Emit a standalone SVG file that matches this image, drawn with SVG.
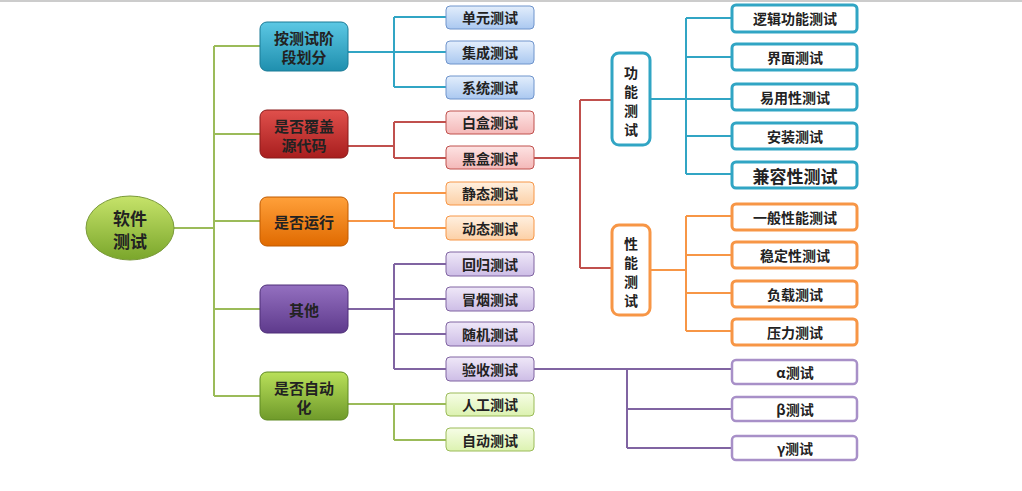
<svg xmlns="http://www.w3.org/2000/svg" width="1022" height="491" viewBox="0 0 1022 491">
<defs>
<linearGradient id="gG" x1="0" y1="0" x2="0" y2="1"><stop offset="0" stop-color="#c6e36a"/><stop offset="1" stop-color="#7aa62b"/></linearGradient>
<linearGradient id="gB" x1="0" y1="0" x2="0" y2="1"><stop offset="0" stop-color="#5cc8e4"/><stop offset="1" stop-color="#1f8fae"/></linearGradient>
<linearGradient id="gR" x1="0" y1="0" x2="0" y2="1"><stop offset="0" stop-color="#e0504c"/><stop offset="1" stop-color="#a81e1e"/></linearGradient>
<linearGradient id="gO" x1="0" y1="0" x2="0" y2="1"><stop offset="0" stop-color="#ffa03a"/><stop offset="1" stop-color="#e06a00"/></linearGradient>
<linearGradient id="gP" x1="0" y1="0" x2="0" y2="1"><stop offset="0" stop-color="#9470c0"/><stop offset="1" stop-color="#5e3a8c"/></linearGradient>
<linearGradient id="gA" x1="0" y1="0" x2="0" y2="1"><stop offset="0" stop-color="#b9e05a"/><stop offset="1" stop-color="#6f9a2a"/></linearGradient>
<linearGradient id="lB" x1="0" y1="0" x2="0" y2="1"><stop offset="0" stop-color="#e3eefc"/><stop offset="1" stop-color="#aac8f0"/></linearGradient>
<linearGradient id="lR" x1="0" y1="0" x2="0" y2="1"><stop offset="0" stop-color="#fde3e3"/><stop offset="1" stop-color="#f4b8b8"/></linearGradient>
<linearGradient id="lO" x1="0" y1="0" x2="0" y2="1"><stop offset="0" stop-color="#fff0e0"/><stop offset="1" stop-color="#fcd0a6"/></linearGradient>
<linearGradient id="lP" x1="0" y1="0" x2="0" y2="1"><stop offset="0" stop-color="#efe8f8"/><stop offset="1" stop-color="#cdbde6"/></linearGradient>
<linearGradient id="lG" x1="0" y1="0" x2="0" y2="1"><stop offset="0" stop-color="#f6fde6"/><stop offset="1" stop-color="#dcf2b0"/></linearGradient>
</defs>
<style>
text{font-family:"Noto Sans CJK SC","Liberation Serif",serif;font-weight:bold;text-anchor:middle;dominant-baseline:central;fill:#222}
.cat{font-size:15px}
.leaf{font-size:14px}
.rt{font-size:14px}
.c{fill:none;stroke-width:2}
.w{fill:#fff;stroke-width:3}
</style>
<rect x="0" y="0" width="1022" height="491" fill="#fff"/>
<line x1="0" y1="1" x2="1022" y2="1" stroke="#ccc" stroke-width="2"/>
<g id="connectors">
<path class="c" stroke="#9bbb59" d="M174 228H214M214 46V396M214 46H260M214 134H260M214 221H260M214 309H260M214 396H260"/>
<path class="c" stroke="#31a5c4" d="M348 52H394M394 17V87M394 17H446M394 52H446M394 87H446"/>
<path class="c" stroke="#c0504d" d="M348 146H394M394 122V158M394 122H446M394 158H446M534 158H580M580 100V268M580 100H612M580 268H612"/>
<path class="c" stroke="#f79646" d="M348 221H394M394 193V228M394 193H446M394 228H446"/>
<path class="c" stroke="#8064a2" d="M348 309H394M394 264V369M394 264H446M394 299H446M394 334H446M394 369H446M534 369H732M627 369V448M627 409H732M627 448H732"/>
<path class="c" stroke="#9bbb59" d="M348 404H394M394 404V440M394 404H446M394 440H446"/>
<path class="c" stroke="#31a5c4" d="M650 99H732M686 18V174M686 18H732M686 57H732M686 136H732M686 174H732"/>
<path class="c" stroke="#f79646" d="M650 270H686M686 216V331M686 216H732M686 255H732M686 293H732M686 331H732"/>
</g>
<g id="root"><ellipse cx="130" cy="228" rx="44" ry="32" fill="url(#gG)" stroke="#7a9a3a"/><text x="130" y="217" font-size="17">软件</text><text x="130" y="240" font-size="17">测试</text></g>
<g id="c1"><rect x="260" y="22" width="88" height="49" rx="7" fill="url(#gB)" stroke="#1a7a96"/><text class="cat" x="304" y="37">按测试阶</text><text class="cat" x="304" y="56">段划分</text></g>
<g id="c2"><rect x="260" y="110" width="88" height="48" rx="7" fill="url(#gR)" stroke="#8a1a1a"/><text class="cat" x="304" y="125">是否覆盖</text><text class="cat" x="304" y="144">源代码</text></g>
<g id="c3"><rect x="260" y="197" width="88" height="49" rx="7" fill="url(#gO)" stroke="#c05a00"/><text class="cat" x="304" y="221">是否运行</text></g>
<g id="c4"><rect x="260" y="285" width="88" height="48" rx="7" fill="url(#gP)" stroke="#4e2f78"/><text class="cat" x="304" y="309">其他</text></g>
<g id="c5"><rect x="260" y="372" width="88" height="48" rx="7" fill="url(#gA)" stroke="#5f8a22"/><text class="cat" x="304" y="387">是否自动</text><text class="cat" x="304" y="406">化</text></g>
<g id="l1"><rect x="446" y="6" width="88" height="23" rx="4" fill="url(#lB)" stroke="#6f94cc"/><text class="leaf" x="490" y="17">单元测试</text></g>
<g id="l2"><rect x="446" y="41" width="88" height="23" rx="4" fill="url(#lB)" stroke="#6f94cc"/><text class="leaf" x="490" y="52">集成测试</text></g>
<g id="l3"><rect x="446" y="76" width="88" height="23" rx="4" fill="url(#lB)" stroke="#6f94cc"/><text class="leaf" x="490" y="87">系统测试</text></g>
<g id="l4"><rect x="446" y="111" width="88" height="23" rx="4" fill="url(#lR)" stroke="#c0504d"/><text class="leaf" x="490" y="122">白盒测试</text></g>
<g id="l5"><rect x="446" y="146" width="88" height="23" rx="4" fill="url(#lR)" stroke="#c0504d"/><text class="leaf" x="490" y="158">黑盒测试</text></g>
<g id="l6"><rect x="446" y="182" width="88" height="23" rx="4" fill="url(#lO)" stroke="#f79646"/><text class="leaf" x="490" y="193">静态测试</text></g>
<g id="l7"><rect x="446" y="216" width="88" height="24" rx="4" fill="url(#lO)" stroke="#f79646"/><text class="leaf" x="490" y="228">动态测试</text></g>
<g id="l8"><rect x="446" y="252" width="88" height="24" rx="4" fill="url(#lP)" stroke="#8064a2"/><text class="leaf" x="490" y="264">回归测试</text></g>
<g id="l9"><rect x="446" y="287" width="88" height="24" rx="4" fill="url(#lP)" stroke="#8064a2"/><text class="leaf" x="490" y="299">冒烟测试</text></g>
<g id="l10"><rect x="446" y="322" width="88" height="24" rx="4" fill="url(#lP)" stroke="#8064a2"/><text class="leaf" x="490" y="334">随机测试</text></g>
<g id="l11"><rect x="446" y="357" width="88" height="24" rx="4" fill="url(#lP)" stroke="#8064a2"/><text class="leaf" x="490" y="369">验收测试</text></g>
<g id="l12"><rect x="446" y="393" width="88" height="23" rx="4" fill="url(#lG)" stroke="#9bbb59"/><text class="leaf" x="490" y="404">人工测试</text></g>
<g id="l13"><rect x="446" y="428" width="88" height="23" rx="4" fill="url(#lG)" stroke="#9bbb59"/><text class="leaf" x="490" y="440">自动测试</text></g>
<g id="f"><rect class="w" x="612" y="53" width="38" height="92" rx="7" stroke="#31a5c4"/><text class="rt" x="631" y="72" font-weight="normal">功</text><text class="rt" x="631" y="91" font-weight="normal">能</text><text class="rt" x="631" y="110">测</text><text class="rt" x="631" y="129">试</text></g>
<g id="p"><rect class="w" x="612" y="225" width="38" height="90" rx="7" stroke="#f79646"/><text class="rt" x="631" y="243" font-weight="normal">性</text><text class="rt" x="631" y="262" font-weight="normal">能</text><text class="rt" x="631" y="281">测</text><text class="rt" x="631" y="300">试</text></g>
<g id="r1"><rect class="w" x="732" y="5" width="125" height="27" rx="4" stroke="#31a5c4"/><text class="rt" x="795" y="18">逻辑功能测试</text></g>
<g id="r2"><rect class="w" x="732" y="44" width="125" height="26" rx="4" stroke="#31a5c4"/><text class="rt" x="795" y="57">界面测试</text></g>
<g id="r3"><rect class="w" x="732" y="84" width="125" height="26" rx="4" stroke="#31a5c4"/><text class="rt" x="795" y="97">易用性测试</text></g>
<g id="r4"><rect class="w" x="732" y="123" width="125" height="26" rx="4" stroke="#31a5c4"/><text class="rt" x="795" y="136">安装测试</text></g>
<g id="r5"><rect class="w" x="732" y="162" width="125" height="26" rx="4" stroke="#31a5c4"/><text x="795" y="175" font-size="17">兼容性测试</text></g>
<g id="r6"><rect class="w" x="732" y="204" width="125" height="26" rx="4" stroke="#f79646"/><text class="rt" x="795" y="217">一般性能测试</text></g>
<g id="r7"><rect class="w" x="732" y="242" width="125" height="26" rx="4" stroke="#f79646"/><text class="rt" x="795" y="255">稳定性测试</text></g>
<g id="r8"><rect class="w" x="732" y="281" width="125" height="26" rx="4" stroke="#f79646"/><text class="rt" x="795" y="294">负载测试</text></g>
<g id="r9"><rect class="w" x="732" y="319" width="125" height="26" rx="4" stroke="#f79646"/><text class="rt" x="795" y="332">压力测试</text></g>
<g id="r10"><rect x="732" y="360" width="125" height="24" rx="4" fill="#fff" stroke="#a890c8" stroke-width="2.5"/><text class="leaf" x="795" y="372">α测试</text></g>
<g id="r11"><rect x="732" y="397" width="125" height="24" rx="4" fill="#fff" stroke="#a890c8" stroke-width="2.5"/><text class="leaf" x="795" y="409">β测试</text></g>
<g id="r12"><rect x="732" y="436" width="125" height="24" rx="4" fill="#fff" stroke="#a890c8" stroke-width="2.5"/><text class="leaf" x="795" y="448">γ测试</text></g>
</svg>
